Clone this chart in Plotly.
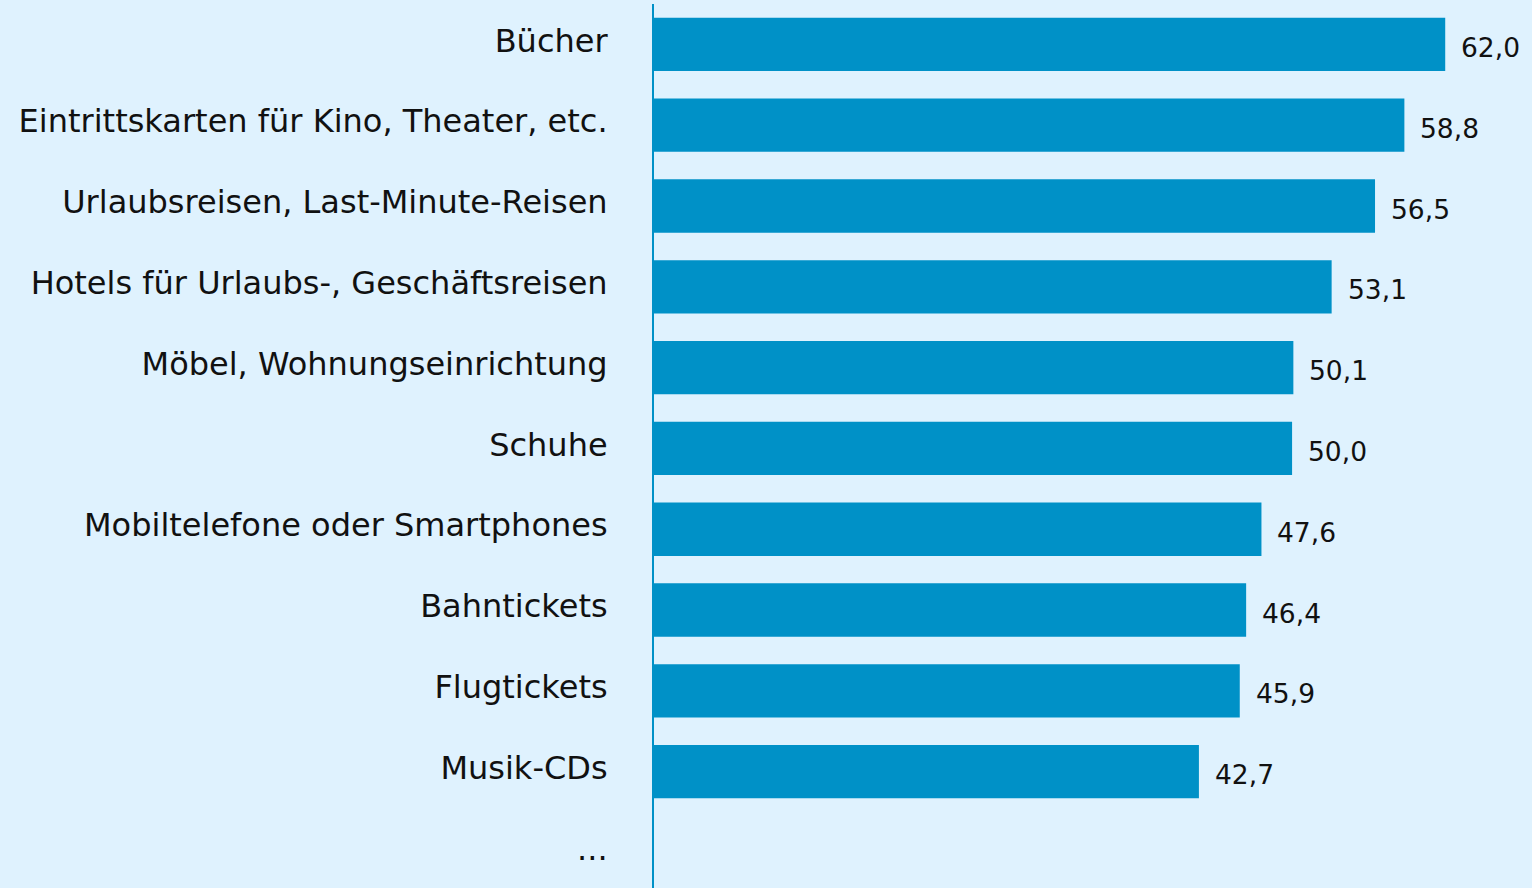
import plotly.graph_objects as go

categories = [
    "Bücher",
    "Eintrittskarten für Kino, Theater, etc.",
    "Urlaubsreisen, Last-Minute-Reisen",
    "Hotels für Urlaubs-, Geschäftsreisen",
    "Möbel, Wohnungseinrichtung",
    "Schuhe",
    "Mobiltelefone oder Smartphones",
    "Bahntickets",
    "Flugtickets",
    "Musik-CDs",
    "...",
]
values = [62.0, 58.8, 56.5, 53.1, 50.1, 50.0, 47.6, 46.4, 45.9, 42.7, None]

BAR = "#0091C7"
BG = "#DFF2FE"
FONT = "DejaVu Sans, Verdana, sans-serif"

fig = go.Figure()
fig.add_trace(go.Bar(
    x=values, y=categories, orientation="h",
    marker=dict(color=BAR, line=dict(width=0)),
    hoverinfo="skip",
))

for c, v in zip(categories, values):
    if v is None:
        continue
    fig.add_annotation(
        x=v, y=c, xref="x", yref="y",
        text=f"{v:.1f}".replace(".", ","),
        showarrow=False, xanchor="left", yanchor="middle",
        xshift=14, yshift=-3,
        font=dict(family=FONT, size=26.5, color="#111111"),
    )

fig.update_layout(
    width=1532, height=888,
    margin=dict(l=654, r=0, t=4, b=0),
    paper_bgcolor=BG, plot_bgcolor=BG,
    bargap=0.34,
    showlegend=False,
    font=dict(family=FONT, size=32, color="#111111"),
)
fig.update_xaxes(
    range=[0, 68.8], showgrid=False, zeroline=False,
    showticklabels=False, showline=False, fixedrange=True,
)
fig.update_yaxes(
    type="category", categoryorder="array", categoryarray=categories,
    range=[10.44, -0.5], showgrid=False, zeroline=False,
    showline=True, linecolor=BAR, linewidth=2,
    ticks="", ticklabelstandoff=38, ticklabelshift=4,
    tickfont=dict(family=FONT, size=32, color="#111111"),
    automargin=False, fixedrange=True,
)

fig.write_html("out.html", config={"displayModeBar": False})
